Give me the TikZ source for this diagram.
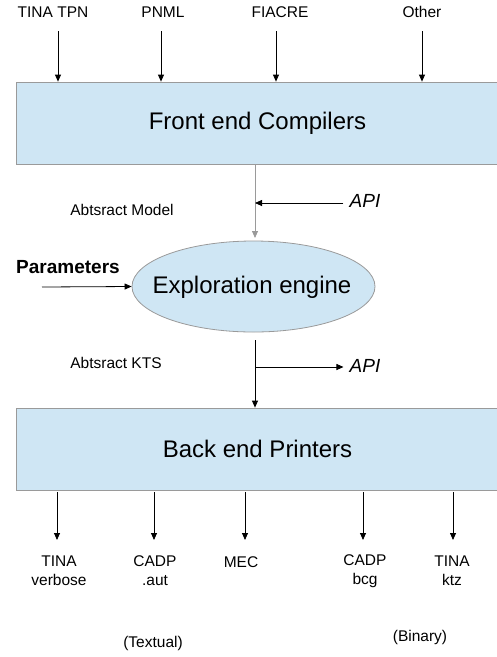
\documentclass[tikz,border=0pt]{standalone}
\usepackage{fontspec}
\setmainfont{Liberation Sans}
\usetikzlibrary{arrows.meta,shapes.geometric}
\definecolor{boxblue}{HTML}{CFE6F4}
\definecolor{edgegray}{HTML}{9A9A9A}
\tikzset{
  blockbox/.style={draw=edgegray,fill=boxblue,line width=0.8pt,minimum width=483pt,minimum height=82pt,inner sep=0pt,font=\fontsize{24}{28}\selectfont},
  enginebox/.style={ellipse,draw=edgegray,fill=boxblue,line width=0.8pt,minimum width=243pt,minimum height=91pt,inner sep=0pt},
  bigtext/.style={inner sep=0pt,font=\fontsize{24}{28}\selectfont},
  lbl/.style={inner sep=0pt,font=\fontsize{15.5}{19}\selectfont,align=center},
  apilbl/.style={inner sep=0pt,font=\fontsize{19}{22}\selectfont\itshape},
  arr/.style={-{Triangle[length=7pt,width=6pt]},line width=0.8pt,black},
  garr/.style={-{Triangle[length=7pt,width=6pt]},line width=0.8pt,edgegray},
}
\begin{document}
\begin{tikzpicture}[x=1pt,y=-1pt]
\clip (0,0) rectangle (497,657);
\useasboundingbox (0,0) rectangle (497,657);
% blocks
\node[blockbox] (front) at (257.5,123) {Front end Compilers};
\node[blockbox] (back) at (257.5,449) {Back end Printers};
\node[enginebox] (eng) at (253.5,286.5) {};
\node[bigtext] (engtxt) at (252,287) {Exploration engine};
% top inputs
\node[lbl] (t1) at (53,12) {TINA TPN};
\node[lbl] (t2) at (163,12) {PNML};
\node[lbl] (t3) at (280,12) {FIACRE};
\node[lbl] (t4) at (422,12) {Other};
\draw[arr] (58,31) -- (58,0 |- front.north);
\draw[arr] (161,31) -- (161,0 |- front.north);
\draw[arr] (276,31) -- (276,0 |- front.north);
\draw[arr] (422,31) -- (422,0 |- front.north);
% abstract model
\coordinate (fs) at (255,0 |- front.south);
\coordinate (j1) at (255,203);
\coordinate (et) at (255,238);
\draw[garr] (fs) -- (et);
\node[apilbl] (api1) at (365,201) {API};
\draw[arr] ([xshift=-6pt]api1.west |- j1) -- (j1);
\node[lbl] (am) at (122,210) {Abtsract Model};
% parameters
\node[lbl,font=\fontsize{19}{22}\selectfont\bfseries] (par) at (68,267) {Parameters};
\draw[arr] (42,287) -- (eng.west);
% abstract KTS
\coordinate (eb) at (255,340);
\coordinate (j2) at (255,367);
\draw[arr] (eb) -- (255,0 |- back.north);
\node[apilbl] (api2) at (365,366) {API};
\draw[arr] (j2) -- ([xshift=-6pt]api2.west |- j2);
\node[lbl] (ak) at (116,363) {Abtsract KTS};
% outputs
\node[lbl] (o1) at (59,571) {TINA\\verbose};
\node[lbl] (o2) at (155,571) {CADP\\.aut};
\node[lbl] (o3) at (241,562) {MEC};
\node[lbl] (o4) at (365,571) {CADP\\bcg};
\node[lbl] (o5) at (452,571) {TINA\\ktz};
\draw[arr] (57,492) -- (57,540);
\draw[arr] (154,492) -- (154,540);
\draw[arr] (245,492) -- (245,540);
\draw[arr] (363,492) -- (363,540);
\draw[arr] (453,492) -- (453,540);
\node[lbl] (tx) at (153,643) {(Textual)};
\node[lbl] (bi) at (420,637) {(Binary)};
\end{tikzpicture}
\end{document}
